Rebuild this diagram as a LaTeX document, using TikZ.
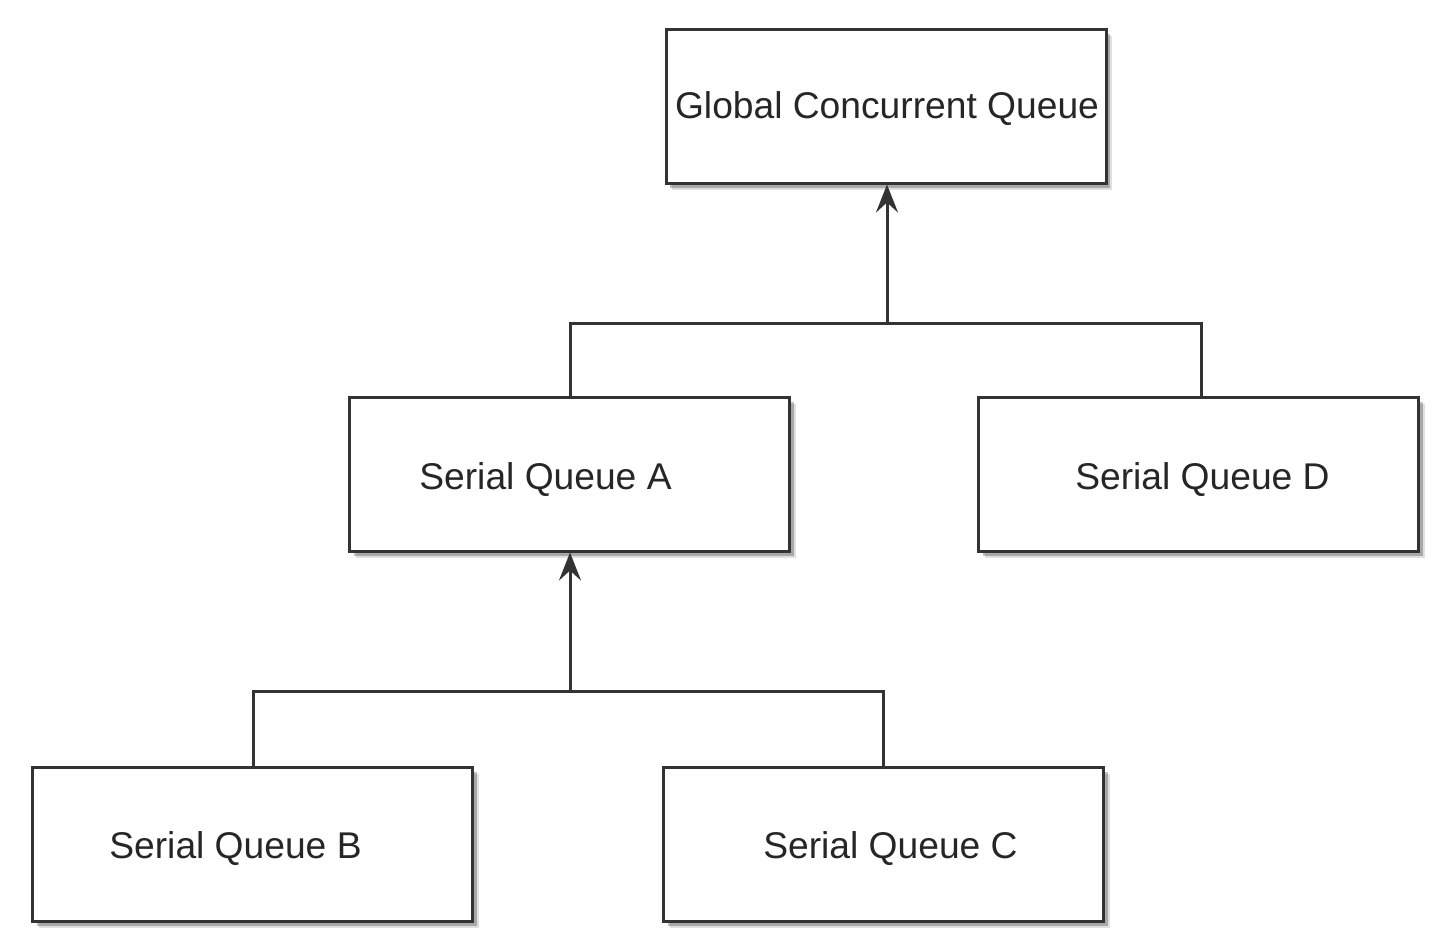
\documentclass[tikz,border=0pt]{standalone}
\usepackage{fontspec}
\setmainfont{Liberation Sans}
\usetikzlibrary{shadows,arrows.meta}
\begin{document}
\begin{tikzpicture}[x=0.5pt,y=-0.5pt,
  qbox/.style={draw=black!80, line width=1.5pt, fill=white, minimum width=220pt, minimum height=77pt, inner sep=0pt,
    general shadow={shadow xshift=3pt, shadow yshift=-3.5pt, opacity=0.12, fill=black},
    general shadow={shadow xshift=2pt, shadow yshift=-2.5pt, opacity=0.25, fill=black}},
  qtext/.style={anchor=base, font=\fontsize{18.6}{22}\selectfont, text=black!85, inner sep=0pt},
  conn/.style={draw=black!80, line width=1.5pt},
  arr/.style={conn, -{Stealth[length=14pt,width=11pt,inset=5pt]}}]
\useasboundingbox (0,0) rectangle (1446,942);
\node[qbox] (G) at (886,106) {};
\node[qbox] (A) at (569.5,474) {};
\node[qbox] (D) at (1198.5,474) {};
\node[qbox] (B) at (252.5,844) {};
\node[qbox] (C) at (883.5,844) {};
\node[qtext] (tG) at (887,118) {Global Concurrent Queue};
\node[qtext] (tA) at (545.5,489) {Serial Queue A};
\node[qtext] (tD) at (1202.5,489) {Serial Queue D};
\node[qtext] (tB) at (235.5,858) {Serial Queue B};
\node[qtext] (tC) at (890.5,858) {Serial Queue C};
\coordinate (j1) at (887,323);
\coordinate (j2) at (570,691);
\draw[conn] (A.north -| j2) |- (j1) -| (D.north -| 1201,0);
\draw[arr] (j1) -- (G.south -| j1);
\draw[conn] (B.north -| 253,0) |- (j2) -| (C.north -| 883,0);
\draw[arr] (j2) -- (A.south -| j2);
\end{tikzpicture}
\end{document}
